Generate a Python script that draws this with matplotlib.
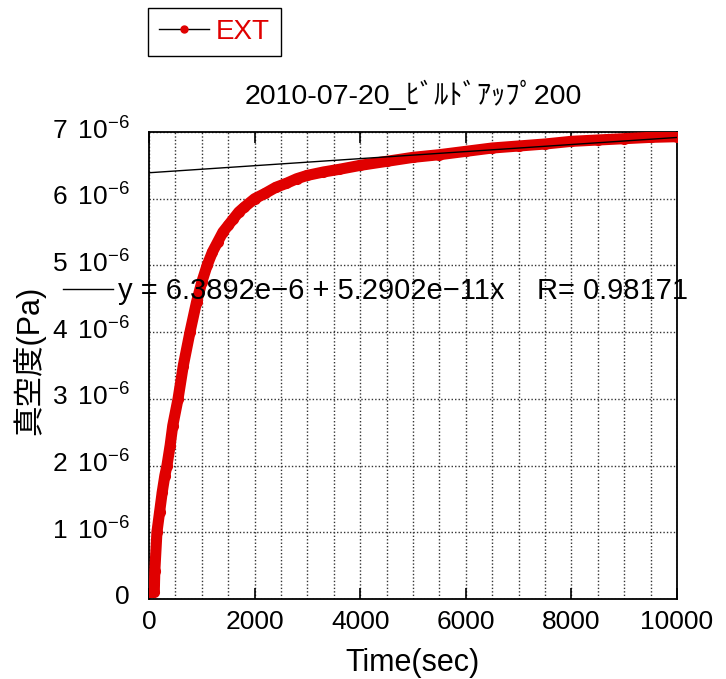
import matplotlib
matplotlib.use("Agg")
import matplotlib.pyplot as plt
import matplotlib.transforms as mtrans
from matplotlib.lines import Line2D
from matplotlib.ticker import MultipleLocator, FuncFormatter

plt.rcParams["font.family"] = ["Liberation Sans", "Noto Sans CJK JP"]
plt.rcParams["mathtext.fontset"] = "custom"
plt.rcParams["mathtext.rm"] = "Liberation Sans"
plt.rcParams["mathtext.it"] = "Liberation Sans:italic"
plt.rcParams["mathtext.bf"] = "Liberation Sans:bold"

# measured pressure build-up (time in s, pressure in units of 1e-6 Pa)
time_s = [0, 50, 100, 110, 150, 200, 250, 300, 340, 400, 450, 550, 650, 776,
          900, 1000, 1100, 1200, 1300, 1400, 1500, 1600, 1700, 1800, 2000,
          2200, 2400, 2600, 2800, 3000, 3300, 3600, 4000, 4500, 5000, 5500,
          6000, 6500, 7000, 7500, 8000, 8500, 9000, 9500, 10000]
pressure_e6 = [0.11, 0.11, 0.11, 0.42, 1.0, 1.3, 1.6, 1.85, 2.0, 2.3, 2.6,
               3.0, 3.5, 4.0, 4.45, 4.75, 5.0, 5.2, 5.35, 5.5, 5.6, 5.7, 5.8,
               5.87, 6.0, 6.08, 6.17, 6.23, 6.3, 6.35, 6.4, 6.44, 6.5, 6.56,
               6.62, 6.66, 6.71, 6.76, 6.79, 6.82, 6.86, 6.88, 6.9, 6.92, 6.93]
pressure = [p * 1e-6 for p in pressure_e6]

# linear fit shown in the original
fit_a = 6.3892e-6
fit_b = 5.2902e-11
fit_r = 0.98171
fit_x = [0, 10000]
fit_y = [fit_a + fit_b * x for x in fit_x]

title = "2010-07-20_ﾋﾞﾙﾄﾞｱｯﾌﾟ200"
fs = 19

fig = plt.figure(figsize=(7.26, 6.79), dpi=100)
ax = fig.add_axes([149 / 726, 80 / 679, 528 / 726, 467 / 679])

ax.plot(time_s, pressure, color="#e00000", lw=8, marker="o", ms=7,
        solid_capstyle="round", zorder=3)
fit_line, = ax.plot(fit_x, fit_y, color="black", lw=1, zorder=4)

ax.set_xlim(0, 10000)
ax.set_ylim(0, 7e-6)
ax.xaxis.set_major_locator(MultipleLocator(2000))
ax.xaxis.set_minor_locator(MultipleLocator(500))
ax.yaxis.set_major_locator(MultipleLocator(1e-6))


def ylab(v, pos):
    k = int(round(v * 1e6))
    return "0" if k == 0 else f"{k}$\\,$ 10$^{{-6}}$"


ax.yaxis.set_major_formatter(FuncFormatter(ylab))
ax.tick_params(axis="x", which="major", direction="in", length=8,
               width=1.2, labelsize=fs, top=True, pad=8)
ax.tick_params(axis="x", which="minor", length=0)
ax.tick_params(axis="y", which="major", length=0, labelsize=fs, pad=14)
shift = mtrans.ScaledTranslation(0, 4 / 100, fig.dpi_scale_trans)
for lab in ax.get_yticklabels():
    lab.set_transform(lab.get_transform() + shift)

ax.grid(True, which="both", axis="x", color="#333333", ls=(0, (1, 1.5)), lw=1)
ax.grid(True, which="major", axis="y", color="#333333", ls=(0, (1, 1.5)), lw=1)
for s in ax.spines.values():
    s.set_linewidth(1.3)

ax.set_title(title, fontsize=20.5, pad=20)
ax.set_xlabel("Time(sec)", fontsize=22, labelpad=10)
ax.set_ylabel("真空度(Pa)", fontsize=22)
ax.yaxis.set_label_coords(-0.197, 0.51)

ext_handle = Line2D([], [], color="black", lw=1, marker="o", ms=5,
                    mfc="#e00000", mec="#e00000")
leg = fig.legend([ext_handle], ["EXT"], loc="upper left",
                 bbox_to_anchor=(148 / 726, 1 - 8 / 679), fontsize=20,
                 handlelength=1.8, handletextpad=0.25, fancybox=False,
                 edgecolor="black", framealpha=1, borderpad=0.4,
                 borderaxespad=0)
leg.get_frame().set_linewidth(1)
leg.get_texts()[0].set_color("#e00000")

eq = "y = 6.3892e\u22126 + 5.2902e\u221211x    R= " + str(fit_r)
fig.legend([fit_line], [eq], loc="center left",
           bbox_to_anchor=(63 / 726, 1 - 291 / 679), fontsize=21,
           handlelength=1.7, handletextpad=0.2, frameon=False,
           borderpad=0, borderaxespad=0)

fig.savefig("out.png", dpi=100)
